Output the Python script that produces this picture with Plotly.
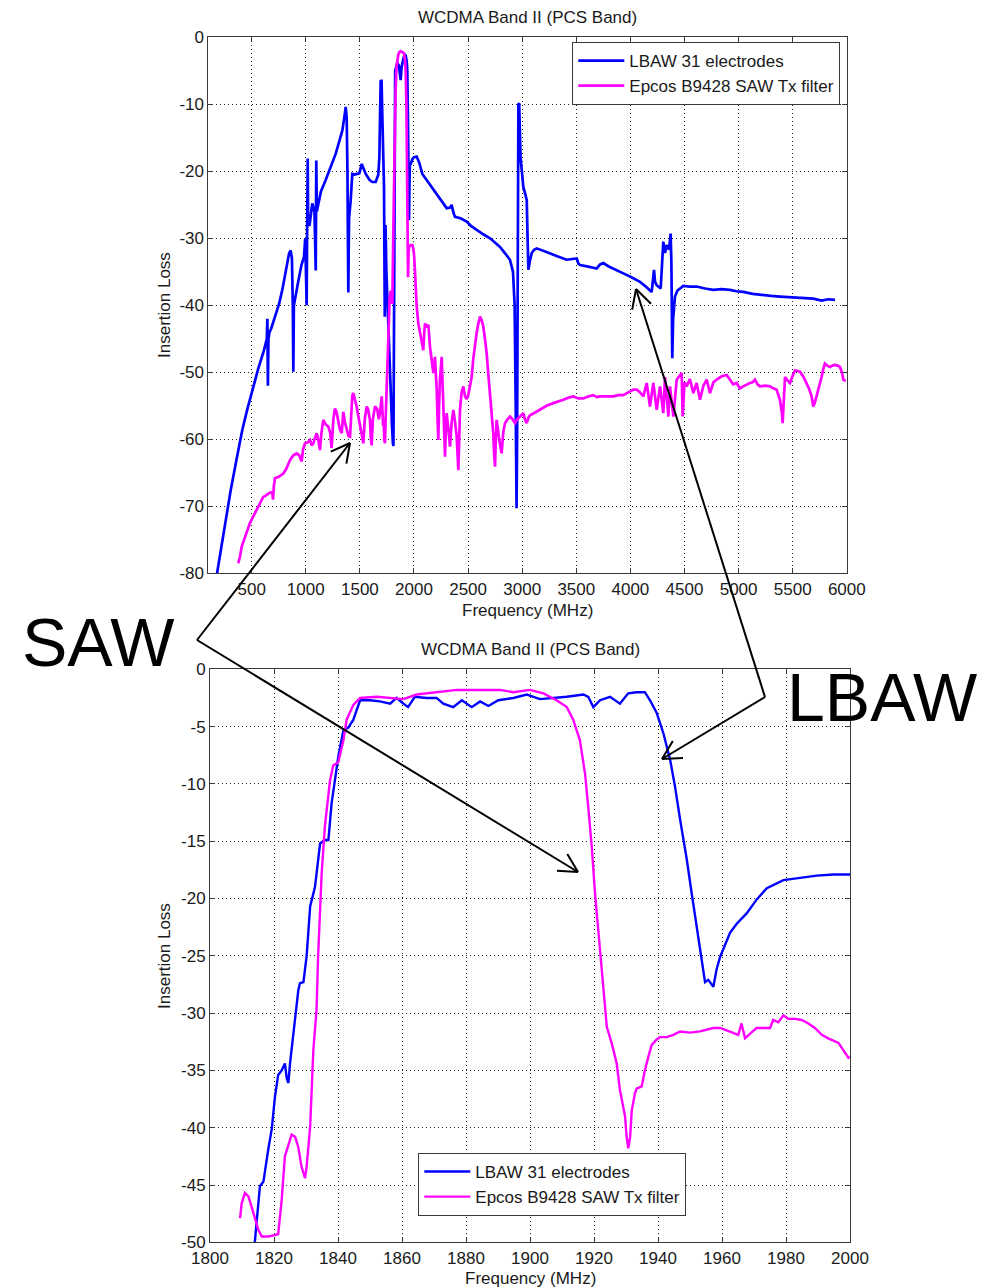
import numpy as np
import plotly.graph_objects as go

W, H = 989, 1288

# ---- wideband sweep (MHz, dB) ----
lbaw_wide = [
    (180, -80), (240, -74), (306, -67.6), (360, -63), (413, -58.6), (460, -55.5), (506, -52.6),
    (560, -49.5), (614, -46.7), (640, -45), (645, -42), (650, -52), (655, -45), (665, -44),
    (680, -43.5), (700, -42.5), (722, -41.7), (753, -39.8), (783, -37.7), (810, -35.5),
    (845, -32.3), (860, -31.8), (872, -33), (880, -40), (885, -49.9), (890, -40), (900, -39),
    (930, -36.5), (960, -34), (983, -32.8), (995, -30), (1005, -35), (1008, -40), (1012, -30),
    (1018, -18.1), (1022, -28), (1035, -28), (1060, -24.8), (1080, -26), (1092, -34.8),
    (1097, -18.4), (1102, -26), (1140, -23), (1184, -21.3), (1230, -19.3), (1276, -17.4),
    (1310, -15.5), (1338, -13.9), (1360, -11.5), (1369, -10.4), (1378, -12), (1385, -20),
    (1393, -38.1), (1400, -27), (1415, -24.3), (1430, -20.4), (1450, -20.5), (1476, -20.4),
    (1495, -20.3), (1517, -18.9), (1535, -19.8), (1554, -20.4), (1590, -21.3), (1615, -21.6),
    (1646, -21.6), (1670, -20.5), (1680, -18), (1690, -8), (1692, -6.4), (1697, -9),
    (1700, -6.3), (1707, -11.4), (1715, -16), (1723, -22.3), (1730, -41.7), (1737, -28),
    (1745, -35), (1755, -40), (1770, -45), (1785, -52), (1797, -58), (1805, -60.6),
    (1810, -61), (1815, -45), (1820, -20), (1826, -5), (1835, -4.5), (1845, -3.8),
    (1860, -4.2), (1877, -6.4), (1885, -4.5), (1892, -3.7), (1905, -3.0), (1915, -2.6),
    (1923, -2.7), (1932, -3.5), (1938, -4.9), (1944, -12), (1948, -25), (1954, -27.3),
    (1958, -22), (1962, -19), (1970, -18.9), (1985, -18.2), (2000, -17.9), (2025, -17.8),
    (2050, -18.8), (2077, -20.4), (2117, -21.3), (2160, -22.3), (2210, -23.3), (2260, -24.5),
    (2302, -25.5), (2335, -25.4), (2348, -25.0), (2365, -26.2), (2379, -26.8), (2430, -27),
    (2487, -27.5), (2530, -28.2), (2580, -28.8), (2640, -29.4), (2703, -30), (2750, -30.6),
    (2795, -31.3), (2840, -32.2), (2887, -33.2), (2915, -35), (2930, -40), (2940, -55),
    (2948, -70.3), (2953, -60), (2960, -30), (2965, -10), (2972, -9.85), (2978, -14),
    (2985, -18), (3000, -20.5), (3010, -22.3), (3030, -23.5), (3042, -24.3), (3050, -30),
    (3057, -34.7), (3070, -33.5), (3088, -32.2), (3110, -31.7), (3134, -31.5), (3200, -31.9),
    (3257, -32.2), (3330, -32.7), (3411, -33.2), (3480, -33.1), (3504, -33), (3520, -33.8),
    (3535, -34), (3600, -34.2), (3689, -34.5), (3720, -33.9), (3750, -33.7), (3800, -34.2),
    (3873, -34.7), (3930, -35.2), (3996, -35.7), (4040, -36.1), (4089, -36.5), (4150, -37.3),
    (4197, -38), (4210, -36), (4218, -34.7), (4228, -36.5), (4243, -37), (4280, -37.5),
    (4295, -33), (4304, -30.5), (4320, -32.2), (4335, -31), (4357, -31.7), (4372, -29.3),
    (4379, -33.7), (4387, -47.9), (4395, -42), (4412, -38.7), (4435, -37.8), (4458, -37.5),
    (4489, -37.1), (4550, -37.2), (4612, -37.2), (4690, -37.5), (4766, -37.7), (4840, -37.6),
    (4920, -37.7), (4980, -37.9), (5043, -38), (5130, -38.3), (5228, -38.5), (5300, -38.6),
    (5382, -38.7), (5460, -38.8), (5537, -38.8), (5610, -38.9), (5690, -39), (5767, -39.3),
    (5830, -39.1), (5891, -39.2),
]

saw_wide = [
    (376, -78.5), (392, -77.5), (408, -76), (440, -74.5), (484, -72.5), (515, -71.5),
    (546, -70.5), (575, -69.8), (607, -68.6), (630, -68.4), (654, -68.1), (690, -67.8),
    (697, -69), (705, -67), (715, -65.8), (750, -65.6), (792, -65.1), (820, -64.4),
    (854, -63.1), (885, -62.4), (916, -62.1), (940, -62.4), (955, -63.3), (962, -63.3),
    (975, -61.5), (993, -60.6), (1015, -60.5), (1039, -60.1), (1055, -60.9), (1070, -60.6),
    (1085, -59.8), (1101, -59.1), (1115, -60), (1131, -61.6), (1145, -59), (1162, -57.1),
    (1185, -57.8), (1208, -58.1), (1225, -59), (1239, -61.3), (1255, -57), (1270, -55.4),
    (1285, -56), (1301, -57.1), (1315, -58.5), (1332, -59.1), (1340, -56.5), (1347, -55.9),
    (1362, -57.5), (1378, -58.6), (1395, -59.5), (1409, -59.6), (1420, -56), (1430, -53.5),
    (1439, -53.1), (1455, -54), (1470, -55.1), (1485, -56.5), (1501, -58.1), (1515, -59.5),
    (1532, -60.6), (1545, -57), (1563, -55.1), (1575, -55.5), (1593, -57.1), (1600, -59.5),
    (1609, -60.9), (1620, -57), (1640, -55.1), (1660, -55.5), (1675, -57), (1686, -56.1),
    (1702, -53.6), (1715, -58), (1720, -57), (1725, -60), (1732, -60.6), (1740, -56),
    (1748, -52.1), (1755, -47), (1763, -43.7), (1769, -39.8), (1775, -39), (1785, -37.8),
    (1792, -39), (1800, -39.8), (1808, -30), (1815, -22), (1822, -14.9), (1830, -8),
    (1838, -4.5), (1846, -3.4), (1855, -2.6), (1865, -2.2), (1877, -2.1), (1890, -2.2),
    (1900, -2.3), (1908, -2.4), (1916, -3.3), (1923, -4.9), (1930, -10), (1938, -19.9),
    (1942, -28), (1945, -35.8), (1950, -32), (1954, -31.3), (1970, -31), (1985, -31),
    (1993, -31.5), (2000, -32.3), (2008, -34.5), (2016, -37.3), (2025, -40.2), (2040, -42.7),
    (2055, -44), (2071, -45.2), (2086, -46.7), (2095, -44), (2102, -42.7), (2118, -43.3),
    (2133, -42.9), (2148, -46.2), (2165, -48), (2179, -50.1), (2194, -47.7), (2202, -50),
    (2210, -52.6), (2218, -57), (2225, -60.1), (2232, -55), (2240, -51.1), (2256, -47.7),
    (2264, -52), (2271, -55.6), (2280, -60), (2287, -62.6), (2295, -58), (2302, -56.1),
    (2318, -58.5), (2333, -61.1), (2348, -57.5), (2364, -55.6), (2380, -57.5), (2395, -59.6),
    (2402, -62), (2410, -64.6), (2418, -60), (2425, -55.6), (2440, -53), (2456, -52.1),
    (2472, -53.6), (2487, -54), (2502, -53.4), (2518, -52), (2533, -50.7), (2548, -48),
    (2564, -45.7), (2580, -44), (2595, -42.7), (2610, -41.7), (2625, -42.2), (2641, -43.2),
    (2656, -45), (2672, -47.2), (2688, -50.5), (2703, -53.6), (2718, -56.5), (2733, -59.1),
    (2740, -62), (2749, -64.1), (2756, -60), (2764, -57.1), (2787, -60), (2810, -62.1),
    (2825, -59), (2841, -57.6), (2865, -57), (2887, -56.6), (2910, -57), (2934, -57.6),
    (2955, -57), (2980, -56.6), (3010, -56.1), (3025, -57), (3042, -57.6), (3057, -56.8),
    (3072, -56.4), (3120, -56), (3165, -55.6), (3225, -55), (3288, -54.6), (3335, -54.4),
    (3380, -54.1), (3425, -53.8), (3473, -53.6), (3520, -53.9), (3565, -53.9), (3610, -53.6),
    (3657, -53.4), (3690, -53.7), (3719, -53.6), (3780, -53.6), (3842, -53.6), (3890, -53.4),
    (3934, -53.4), (3980, -53), (4027, -52.6), (4058, -52.6), (4090, -53), (4120, -53.6),
    (4151, -51.6), (4181, -55.1), (4212, -51.6), (4243, -55.6), (4274, -52.1), (4304, -56.1),
    (4320, -50.7), (4351, -56.6), (4366, -52.1), (4397, -56.6), (4428, -51.1), (4474, -50.1),
    (4483, -56.6), (4500, -51.5), (4520, -52.1), (4550, -51), (4582, -53.1), (4612, -51.6),
    (4643, -54.1), (4675, -52), (4705, -51.1), (4736, -53.1), (4767, -51.5), (4797, -51.1),
    (4845, -50.6), (4890, -50.4), (4920, -51.1), (4950, -51.8), (4982, -51.6), (5012, -52.4),
    (5043, -52.1), (5075, -51.8), (5105, -51.6), (5130, -51.5), (5151, -51.1), (5175, -51.8),
    (5197, -52.1), (5245, -52), (5290, -52.1), (5320, -52.4), (5352, -52.6), (5382, -54.1),
    (5400, -56), (5407, -57.6), (5417, -54), (5429, -50.7), (5452, -51.2), (5475, -51.6),
    (5500, -50.5), (5521, -49.7), (5545, -49.8), (5567, -49.9), (5600, -50.7), (5629, -51.6),
    (5652, -52.5), (5675, -53.6), (5690, -55.1), (5705, -54.5), (5721, -53.6), (5745, -52),
    (5767, -50.7), (5783, -49.5), (5798, -48.7), (5820, -49), (5845, -49.2), (5868, -49),
    (5891, -48.9), (5915, -49), (5937, -49.2), (5955, -50), (5968, -51.1), (5990, -51.3),
]

# ---- passband detail (MHz, dB) ----
lbaw_band = [
    (1813.5, -52), (1814, -50), (1815.6, -45.1), (1816.7, -44.7), (1818.2, -41.9), (1819.3, -40.1),
    (1820.3, -37.3), (1821.3, -35.4), (1822.4, -35), (1823.4, -34.4), (1824, -35.7),
    (1824.5, -36.1), (1825, -34.4), (1826, -32.1), (1827.6, -28), (1828.1, -27.4),
    (1829.2, -27.3), (1830.2, -25), (1831.3, -20.7), (1832.8, -19), (1834.4, -15.2),
    (1835.9, -14.9), (1837, -14.9), (1838, -11.7), (1839, -9.9), (1840.1, -7.6),
    (1841.7, -5.3), (1843.2, -5.1), (1844.8, -4.4), (1846.9, -2.7), (1850, -2.7),
    (1853.1, -2.8), (1856.3, -3), (1858.3, -2.5), (1860, -2.9), (1861.9, -3.3), (1864, -2.4),
    (1867.7, -2.5), (1870.8, -2.5), (1872.9, -3), (1876, -3.3), (1878.7, -2.7),
    (1881.8, -3.3), (1884.4, -2.8), (1887, -3.2), (1890.1, -2.7), (1894.8, -2.5),
    (1899, -2.2), (1903.1, -2.6), (1907.3, -2.5), (1911.5, -2.4), (1916.7, -2.2),
    (1918.2, -2.4), (1919.8, -3.3), (1921.9, -2.7), (1925, -2.4), (1928.1, -3),
    (1930.7, -2.1), (1933.3, -2.0), (1935.9, -2.0), (1937.5, -2.7), (1939.6, -3.8),
    (1941.7, -5.6), (1943.8, -7.9), (1945.3, -10.2), (1946.9, -13.1), (1949, -16.6),
    (1950.5, -19.5), (1952.1, -22.5), (1953.7, -25.1), (1954.7, -27.3), (1955.7, -27.1),
    (1957.3, -27.7), (1958.3, -26.2), (1959.4, -25.1), (1962.5, -23), (1964.6, -22.2),
    (1967.7, -21.3), (1970.8, -20.1), (1974, -19.1), (1979.2, -18.4), (1984.4, -18.2),
    (1989.6, -18), (1994.8, -17.9), (2000, -17.9),
]

saw_band = [
    (1809.4, -47.9), (1809.9, -46.6), (1810.9, -45.7), (1812, -46), (1813, -46.9),
    (1814, -47.8), (1815.1, -48.9), (1816.2, -49.5), (1818.2, -49.5), (1821.3, -49.3),
    (1822.4, -46.3), (1823.4, -42.5), (1824.5, -41.4), (1825.5, -40.6), (1826.6, -40.8),
    (1827.6, -41.7), (1828.6, -43.4), (1829.7, -44.4), (1830.2, -43.4), (1831.3, -39.9),
    (1832.3, -33.2), (1833.3, -29.7), (1833.8, -24.9), (1834.9, -17.8), (1835.9, -13.7),
    (1837.5, -9.7), (1838.5, -8.4), (1840.1, -8.1), (1841.7, -6.2), (1842.7, -4.4),
    (1844.8, -3.1), (1846.9, -2.5), (1852.1, -2.4), (1857.3, -2.5), (1860.4, -2.6),
    (1864.6, -2.2), (1870.8, -2.0), (1877.1, -1.8), (1883.3, -1.8), (1890.6, -1.8),
    (1894.8, -2.0), (1900, -1.8), (1904.2, -2.1), (1908.3, -2.7), (1911.5, -3.3),
    (1913.5, -4.4), (1915.6, -6.2), (1917.2, -9.1), (1918.2, -12), (1919.3, -15.5),
    (1920.3, -19.5), (1921.4, -23), (1921.9, -25.1), (1922.4, -26.8), (1923.4, -29.7),
    (1924, -31.2), (1925.5, -32.6), (1927.1, -34.4), (1928.1, -36.7), (1929.7, -39),
    (1930.2, -40.8), (1930.7, -41.8), (1931.3, -40.8), (1931.8, -38.5), (1932.8, -37),
    (1933.3, -36.6), (1934.9, -36.4), (1935.9, -35), (1937, -33.8), (1938, -32.8),
    (1939.6, -32.3), (1940.6, -32.1), (1942.7, -32.1), (1944.8, -31.9), (1946.9, -31.6),
    (1950, -31.7), (1953.1, -31.6), (1957.3, -31.3), (1959.4, -31.3), (1962.5, -31.6),
    (1965.1, -31.9), (1966.1, -30.9), (1967.2, -32.2), (1968.8, -31.8), (1970.8, -31.3),
    (1972.9, -31.3), (1975, -31.3), (1976, -30.6), (1977.6, -30.8), (1979.2, -30.2),
    (1980.7, -30.5), (1982.8, -30.5), (1984.9, -30.6), (1987, -30.9), (1989, -31.3),
    (1991.2, -31.9), (1993.2, -32.2), (1996.4, -32.6), (1997.9, -33.2), (1999.5, -33.9),
    (2000, -33.8),
]

series_names = ["LBAW 31 electrodes", "Epcos B9428 SAW Tx filter"]
series_colors = ["#0000ff", "#ff00ff"]

wide_xticks = [500, 1000, 1500, 2000, 2500, 3000, 3500, 4000, 4500, 5000, 5500, 6000]
wide_yticks = [0, -10, -20, -30, -40, -50, -60, -70, -80]
band_xticks = [1800, 1820, 1840, 1860, 1880, 1900, 1920, 1940, 1960, 1980, 2000]
band_yticks = [0, -5, -10, -15, -20, -25, -30, -35, -40, -45, -50]

title_text = "WCDMA Band II (PCS Band)"
FONT = "Liberation Sans, Arial, sans-serif"
TXT = "#1a1a1a"


def px_x(x):
    return x / W


def px_y(y):
    return 1 - y / H


fig = go.Figure()

panels = [
    ("x", "y", [lbaw_wide, saw_wide], "legend", 2.7),
    ("x2", "y2", [lbaw_band, saw_band], "legend2", 2.4),
]
for xa, ya, curves, leg, lw in panels:
    for pts, name, col in zip(curves, series_names, series_colors):
        f, db = zip(*pts)
        fig.add_trace(go.Scatter(
            x=list(f), y=list(db), mode="lines", name=name,
            line=dict(color=col, width=lw), xaxis=xa, yaxis=ya, legend=leg,
        ))

axis_common = dict(
    showline=True, linecolor="#3a3a3a", linewidth=1, mirror="ticks",
    ticks="inside", ticklen=5, tickcolor="#3a3a3a",
    showgrid=True, gridcolor="#222222", griddash="1px,3px", gridwidth=1,
    zeroline=False, automargin=False,
    tickfont=dict(family=FONT, size=17, color=TXT),
)


def labels(vals):
    return [str(v) for v in vals]


legend_common = dict(
    xanchor="left", yanchor="top", bgcolor="white", bordercolor="#3a3a3a",
    borderwidth=1, font=dict(family=FONT, size=17, color=TXT),
    tracegroupgap=0, itemwidth=46,
)

fig.update_layout(
    width=W, height=H,
    margin=dict(l=0, r=0, t=0, b=0),
    paper_bgcolor="white", plot_bgcolor="white",
    font=dict(family=FONT, size=17, color=TXT),
    xaxis=dict(axis_common, domain=[px_x(208.4), px_x(846.8)], range=[100, 6000],
               tickvals=wide_xticks, ticktext=labels(wide_xticks), anchor="y"),
    yaxis=dict(axis_common, domain=[px_y(573.3), px_y(37.3)], range=[-80, 0],
               tickvals=wide_yticks, ticktext=labels(wide_yticks), anchor="x"),
    xaxis2=dict(axis_common, domain=[px_x(210), px_x(850)], range=[1800, 2000],
                tickvals=band_xticks, ticktext=labels(band_xticks), anchor="y2"),
    yaxis2=dict(axis_common, domain=[px_y(1242.3), px_y(669.3)], range=[-50, 0],
                tickvals=band_yticks, ticktext=labels(band_yticks), anchor="x2"),
    legend=dict(legend_common, x=px_x(572.3), y=px_y(42)),
    legend2=dict(legend_common, x=px_x(418.3), y=px_y(1153)),
    showlegend=True,
)

annotations = []


def text_at(x, y, s, size=17, angle=0):
    annotations.append(dict(
        x=px_x(x), y=px_y(y), xref="paper", yref="paper", text=s, showarrow=False,
        xanchor="center", yanchor="middle", textangle=angle,
        font=dict(family=FONT, size=size, color=TXT),
    ))


text_at(527, 17, title_text)
text_at(527, 610, "Frequency (MHz)")
text_at(164, 305, "Insertion Loss", angle=-90)
text_at(530, 649, title_text)
text_at(530, 1278, "Frequency (MHz)")
text_at(164, 956, "Insertion Loss", angle=-90)
for s, x, y in [("SAW", 98, 642), ("LBAW", 882, 697)]:
    annotations.append(dict(
        x=px_x(x), y=px_y(y), xref="paper", yref="paper", text=s, showarrow=False,
        xanchor="center", yanchor="middle",
        font=dict(family=FONT, size=68, color="black"),
    ))
fig.update_layout(annotations=annotations)

# Callout arrows (open V heads), laid out in figure pixels
callouts = [
    ((197, 640), (350, 443)),
    ((197, 640), (578, 872)),
    ((765, 697), (636, 289)),
    ((765, 697), (662, 759)),
]
shapes = []


def seg(p, q):
    shapes.append(dict(type="line", xref="paper", yref="paper",
                       x0=px_x(p[0]), y0=px_y(p[1]), x1=px_x(q[0]), y1=px_y(q[1]),
                       line=dict(color="black", width=2), layer="above"))


for tail, head in callouts:
    t = np.array(tail, float)
    h = np.array(head, float)
    back = (t - h) / np.linalg.norm(t - h)
    seg(tail, head)
    for sgn in (1, -1):
        a = np.radians(28) * sgn
        rot = np.array([[np.cos(a), -np.sin(a)], [np.sin(a), np.cos(a)]])
        wing = h + 21 * rot @ back
        seg(head, wing)
fig.update_layout(shapes=shapes)

fig.write_html("out.html")
